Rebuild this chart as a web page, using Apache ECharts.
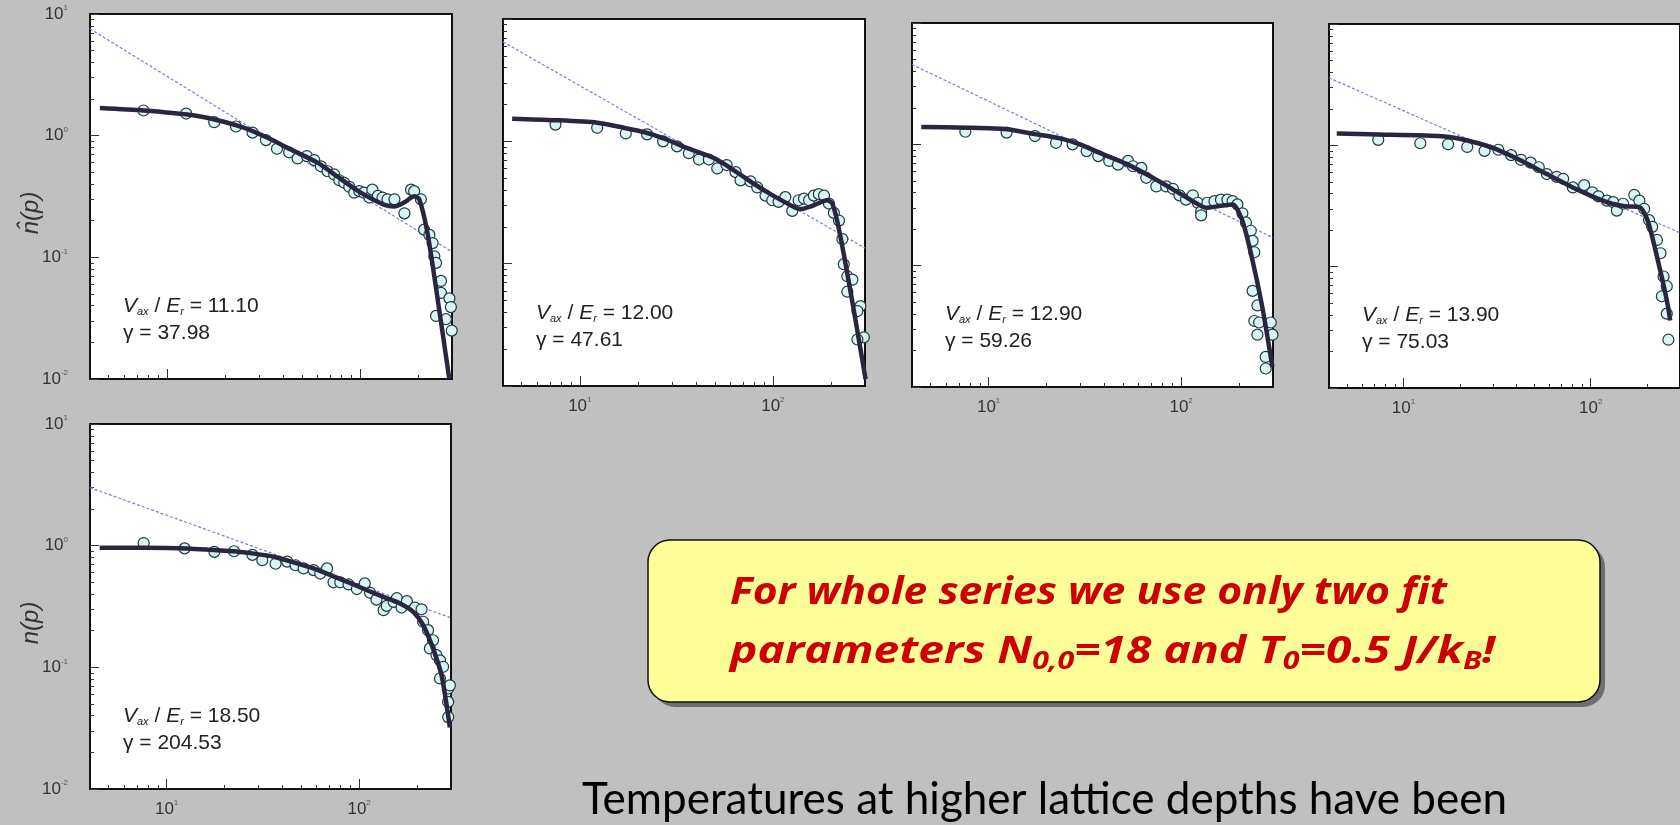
<!DOCTYPE html>
<html>
<head>
<meta charset="utf-8">
<script src="https://cdn.jsdelivr.net/npm/echarts@6/dist/echarts.min.js"></script>
<style>
  html, body { margin: 0; padding: 0; background: #c0c0c0; }
  #chart { width: 1680px; height: 825px; }
</style>
</head>
<body>
<div id="chart"></div>
<script>
// Momentum distributions n(p) for five lattice depths: measured points,
// fitted curve and a power-law guide line, all on log-log axes.

// V_ax/E_r = 11.10
const points1110 = [[7.57,1.61],[12.6,1.52],[17.6,1.29],[22.8,1.19],[27.8,1.06],[32.6,0.92],[37.2,0.78],[43.0,0.73],[47.6,0.65],[53.1,0.68],[58.0,0.63],[62.8,0.56],[68.0,0.51],[73.6,0.48],[78.2,0.43],[83.0,0.41],[88.1,0.38],[93.5,0.34],[99.3,0.35],[105,0.34],[112,0.31],[116,0.36],[124,0.32],[131,0.31],[139,0.30],[151,0.30],[170,0.23],[184,0.36],[191,0.35],[207,0.30],[215,0.169],[229,0.153],[238,0.131],[243,0.102],[248,0.090],[263,0.064],[263,0.051],[248,0.033],[279,0.031],[291,0.046],[296,0.039],[299,0.025]];
const fit1110 = [[4.5,1.69],[7.6,1.61],[12.8,1.49],[18.3,1.34],[25.2,1.16],[33.3,0.96],[43.9,0.77],[60.3,0.60],[76.6,0.46],[101,0.34],[134,0.27],[151,0.262],[170,0.283],[191,0.317],[203,0.30],[224,0.158],[253,0.045],[290,0.0102]];
const guide1110 = [[4,7.55],[300,0.111]];

// V_ax/E_r = 12.00
const points1200 = [[7.48,1.37],[12.3,1.29],[17.3,1.16],[22.3,1.14],[27.0,1.0],[31.9,0.91],[36.7,0.80],[41.4,0.71],[46.6,0.71],[51.5,0.60],[57.6,0.64],[64.1,0.56],[68.0,0.48],[76.6,0.47],[83.0,0.42],[91.6,0.36],[99.3,0.33],[107,0.32],[116,0.35],[126,0.27],[136,0.33],[145,0.34],[154,0.33],[163,0.36],[173,0.37],[184,0.36],[195,0.31],[207,0.26],[220,0.225],[229,0.159],[233,0.099],[243,0.079],[258,0.074],[243,0.059],[284,0.045],[274,0.041],[296,0.025],[274,0.024]];
const fit1200 = [[4.46,1.53],[7.33,1.49],[12.3,1.42],[16.9,1.29],[22.3,1.17],[28.4,1.03],[36.0,0.88],[49.5,0.73],[62.8,0.58],[79.7,0.45],[97.3,0.37],[119,0.31],[139,0.28],[163,0.30],[191,0.33],[203,0.31],[215,0.225],[233,0.119],[263,0.041],[302,0.0114]];
const guide1200 = [[4,6.5],[300,0.134]];

// V_ax/E_r = 12.90
const points1290 = [[7.57,1.27],[12.4,1.25],[17.4,1.17],[22.4,1.03],[27.3,1.0],[32.3,0.88],[37.1,0.80],[42.3,0.73],[47.0,0.68],[53.0,0.73],[56.2,0.66],[62.1,0.64],[65.9,0.53],[74.3,0.45],[83.6,0.45],[90.6,0.43],[98.0,0.38],[106,0.35],[115,0.38],[122,0.33],[127,0.28],[127,0.26],[137,0.33],[149,0.34],[161,0.35],[174,0.35],[185,0.34],[196,0.32],[208,0.27],[217,0.227],[230,0.194],[235,0.160],[240,0.129],[235,0.062],[249,0.047],[240,0.035],[254,0.034],[249,0.027],[292,0.034],[298,0.027],[275,0.0177],[275,0.0142]];
const fit1290 = [[4.47,1.39],[7.73,1.37],[12.4,1.33],[17.1,1.22],[23.5,1.12],[29.8,1.0],[37.8,0.85],[52.0,0.69],[71.3,0.53],[94.2,0.41],[115,0.34],[135,0.30],[158,0.31],[185,0.32],[208,0.234],[235,0.110],[264,0.0455],[298,0.0146]];
const guide1290 = [[4,4.55],[300,0.17]];

// V_ax/E_r = 13.90
const points1390 = [[7.33,1.11],[12.3,1.04],[17.3,1.02],[21.9,0.97],[27.1,0.90],[32.1,0.92],[37.6,0.83],[42.4,0.76],[47.8,0.72],[52.8,0.66],[58.3,0.58],[65.8,0.55],[71.3,0.53],[80.3,0.45],[92.3,0.47],[102,0.41],[110,0.38],[122,0.35],[132,0.34],[138,0.29],[149,0.33],[171,0.39],[182,0.35],[193,0.30],[205,0.242],[213,0.213],[226,0.166],[236,0.129],[245,0.083],[255,0.069],[240,0.057],[255,0.041],[260,0.025]];
const fit1390 = [[4.40,1.25],[7.33,1.23],[12.3,1.21],[17.6,1.17],[23.3,1.07],[30.8,0.94],[42.4,0.75],[58.3,0.58],[80.3,0.45],[102,0.38],[130,0.33],[152,0.315],[182,0.31],[201,0.242],[226,0.121],[255,0.053],[266,0.036]];
const guide1390 = [[4,3.6],[300,0.19]];

// V_ax/E_r = 18.50
const points1850 = [[7.60,1.05],[12.4,0.95],[17.7,0.89],[22.4,0.90],[27.9,0.84],[31.4,0.76],[36.8,0.71],[42.3,0.74],[46.7,0.69],[51.5,0.65],[58.0,0.63],[62.8,0.59],[68.1,0.65],[73.6,0.50],[79.8,0.50],[88.1,0.48],[97.3,0.44],[107,0.49],[114,0.41],[123,0.36],[134,0.295],[139,0.32],[151,0.345],[157,0.37],[166,0.31],[177,0.35],[195,0.31],[211,0.30],[215,0.237],[228,0.202],[242,0.167],[233,0.143],[252,0.126],[263,0.114],[273,0.101],[263,0.081],[290,0.067],[290,0.052],[296,0.071],[290,0.039]];
const fit1850 = [[4.49,0.96],[7.66,0.96],[12.8,0.95],[17.7,0.92],[22.4,0.90],[28.4,0.86],[36.0,0.81],[45.7,0.73],[58.0,0.65],[73.6,0.56],[93.5,0.48],[114,0.42],[139,0.37],[163,0.335],[191,0.286],[215,0.222],[242,0.143],[268,0.086],[296,0.032]];
const guide1850 = [[4,3.0],[300,0.255]];

// Axis ticks and labels
const xRange = [4, 300];
const yRange = [0.01, 10];
const xMajorTicks = [10, 100];
const xMinorTicks = [5, 6, 7, 8, 9, 20, 30, 40, 50, 60, 70, 80, 90, 200];
const yMajorTicks = [0.01, 0.1, 1, 10];
const yMinorTicks = [0.02, 0.03, 0.04, 0.05, 0.06, 0.07, 0.08, 0.09,
                     0.2, 0.3, 0.4, 0.5, 0.6, 0.7, 0.8, 0.9,
                     2, 3, 4, 5, 6, 7, 8, 9];

const L = Math.log10;

const panels = [
  { grid: { left: 90,   top: 14,  width: 362, height: 365 }, points: points1110, fit: fit1110, guide: guide1110, depth: '11.10', gamma: '37.98',  xLabels: false, yLabels: true,  yTitle: 'n\u0302(p)' },
  { grid: { left: 503,  top: 19,  width: 362, height: 367 }, points: points1200, fit: fit1200, guide: guide1200, depth: '12.00', gamma: '47.61',  xLabels: true,  yLabels: false },
  { grid: { left: 912,  top: 23,  width: 361, height: 364 }, points: points1290, fit: fit1290, guide: guide1290, depth: '12.90', gamma: '59.26',  xLabels: true,  yLabels: false },
  { grid: { left: 1329, top: 24,  width: 362, height: 364 }, points: points1390, fit: fit1390, guide: guide1390, depth: '13.90', gamma: '75.03',  xLabels: true,  yLabels: false },
  { grid: { left: 90,   top: 424, width: 361, height: 365 }, points: points1850, fit: fit1850, guide: guide1850, depth: '18.50', gamma: '204.53', xLabels: true,  yLabels: true,  yTitle: 'n(p)' }
];

const tickColor = '#333';
const labelRich = {
  b: { fontSize: 17, fontFamily: 'Liberation Sans', color: '#333', lineHeight: 20 },
  s: { fontSize: 8, fontFamily: 'Liberation Sans', color: '#555', lineHeight: 12, verticalAlign: 'top' }
};
const powerLabel = v => '{b|10}{s|' + Math.round(v) + '}';

const grids = [], xAxes = [], yAxes = [], series = [], graphics = [];

panels.forEach((p, i) => {
  grids.push(Object.assign({
    show: true, backgroundColor: '#ffffff', borderColor: '#111', borderWidth: 2
  }, p.grid));

  // data axes (logarithmic)
  const logAxis = range => ({
    type: 'log', logBase: 10, gridIndex: i, min: range[0], max: range[1],
    axisLine: { show: false, onZero: false }, axisTick: { show: false }, axisLabel: { show: false },
    splitLine: { show: false }, minorTick: { show: false }, minorSplitLine: { show: false }
  });
  xAxes.push(logAxis(xRange));
  yAxes.push(logAxis(yRange));

  // tick axes, laid out in log10 units over the same extent
  const tickAxis = (pos, range, ticks, len, labels, margin) => ({
    type: 'value', gridIndex: i, position: pos, min: L(range[0]), max: L(range[1]),
    axisLine: { show: false, onZero: false }, splitLine: { show: false },
    axisTick: { show: true, inside: true, length: len, customValues: ticks.map(L), lineStyle: { color: tickColor, width: 1 } },
    axisLabel: labels
      ? { show: true, customValues: ticks.map(L), formatter: powerLabel, margin: margin, rich: labelRich }
      : { show: false }
  });
  xAxes.push(tickAxis('bottom', xRange, xMajorTicks, 10, p.xLabels, 10));
  xAxes.push(tickAxis('bottom', xRange, xMinorTicks, 4, false));
  yAxes.push(tickAxis('left', yRange, yMajorTicks, 9, p.yLabels, 22));
  yAxes.push(tickAxis('left', yRange, yMinorTicks, 4, false));

  const ax = { xAxisIndex: 3 * i, yAxisIndex: 3 * i };
  series.push(Object.assign({
    type: 'line', data: p.guide, showSymbol: false, silent: true, z: 2,
    lineStyle: { color: '#6f84d6', width: 1.2, type: [3, 2] }
  }, ax));
  series.push(Object.assign({
    type: 'scatter', data: p.points, symbol: 'circle', symbolSize: 11, z: 3,
    itemStyle: { color: '#daf3f3', borderColor: '#1f3a3c', borderWidth: 1.2, opacity: 1 }
  }, ax));
  series.push(Object.assign({
    type: 'line', data: p.fit, showSymbol: false, smooth: 0.25, z: 4,
    lineStyle: { color: '#2a2640', width: 4.5 }
  }, ax));

  // parameter annotation in the lower-left corner of each panel
  const bottom = p.grid.top + p.grid.height;
  graphics.push({
    type: 'text', x: p.grid.left + 33, y: bottom - 84, z: 10,
    style: {
      text: '{v|V}{sub|ax}{n| / }{v|E}{sub|r}{n| = ' + p.depth + '}',
      rich: {
        v: { fontSize: 21, fontStyle: 'italic', fontFamily: 'Liberation Sans', fill: '#222', lineHeight: 22 },
        n: { fontSize: 21, fontFamily: 'Liberation Sans', fill: '#222', lineHeight: 22 },
        sub: { fontSize: 11, fontStyle: 'italic', fontFamily: 'Liberation Sans', fill: '#222', lineHeight: 8, verticalAlign: 'bottom' }
      }
    }
  });
  graphics.push({
    type: 'text', x: p.grid.left + 33, y: bottom - 56, z: 10,
    style: { text: '\u03b3 = ' + p.gamma, font: '21px "Liberation Sans"', fill: '#222' }
  });

  if (p.yTitle) {
    graphics.push({
      type: 'text', x: 31, y: p.grid.top + p.grid.height * 0.545, rotation: Math.PI / 2, z: 10,
      style: { text: p.yTitle, font: 'italic 24px "Liberation Sans"', fill: '#333', align: 'center', verticalAlign: 'middle' }
    });
  }
});

// call-out box: offset shadow, then the rounded yellow panel
const box = { x: 648, y: 540, width: 952, height: 162, r: 22 };
graphics.push({
  type: 'rect', z: 5,
  shape: { x: box.x + 5, y: box.y + 5, width: box.width, height: box.height, r: box.r },
  style: { fill: '#6e6e6e' }
});
graphics.push({
  type: 'rect', z: 6,
  shape: box,
  style: { fill: '#ffff99', stroke: '#111', lineWidth: 1.5 }
});

// call-out text in a bold italic face; each line is fitted to its span
const mainSize = 38, subSize = 25;
const fontFor = size => 'italic bold ' + size + 'px "Open Sans"';
const measureCtx = document.createElement('canvas').getContext('2d');
const tokenWidth = (text, size) => { measureCtx.font = fontFor(size); return measureCtx.measureText(text).width; };

const calloutLine1 = [['t', 'For whole series we use only two fit']];
const calloutLine2 = [['t', 'parameters N'], ['sb', '0,0'], ['t', '=18 and T'], ['sb', '0'], ['t', '=0.5 J/k'], ['sb', 'B'], ['t', '!']];
const lineWidth = tokens => tokens.reduce((w, tk) => w + tokenWidth(tk[1], tk[0] === 't' ? mainSize : subSize), 0);
const richText = tokens => tokens.map(tk => '{' + tk[0] + '|' + tk[1] + '}').join('');

const redRich = {
  t: { fontSize: mainSize, fontWeight: 'bold', fontStyle: 'italic', fontFamily: 'Open Sans', fill: '#cc0000', lineHeight: 44 },
  sb: { fontSize: subSize, fontWeight: 'bold', fontStyle: 'italic', fontFamily: 'Open Sans', fill: '#cc0000', lineHeight: 16, verticalAlign: 'bottom' }
};
graphics.push({
  type: 'text', x: 730, y: 571, z: 7, scaleX: 717 / lineWidth(calloutLine1),
  style: { text: richText(calloutLine1), rich: redRich }
});
graphics.push({
  type: 'text', x: 730, y: 630, z: 7, scaleX: 765 / lineWidth(calloutLine2),
  style: { text: richText(calloutLine2), rich: redRich }
});

graphics.push({
  type: 'text', x: 582, y: 800, z: 7,
  style: { text: 'Temperatures at higher lattice depths have been', font: '44px Lato', fill: '#000', verticalAlign: 'middle' }
});

const chart = echarts.init(document.getElementById('chart'), null, { renderer: 'canvas' });
chart.setOption({
  backgroundColor: '#c0c0c0',
  animation: false,
  grid: grids,
  xAxis: xAxes,
  yAxis: yAxes,
  series: series,
  graphic: graphics
});
</script>
</body>
</html>
